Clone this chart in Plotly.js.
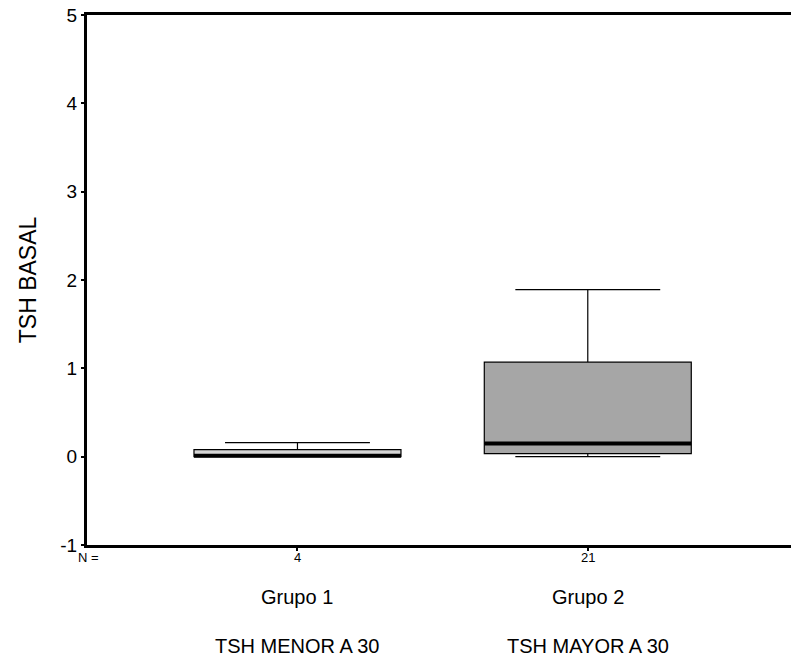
<!DOCTYPE html>
<html>
<head>
<meta charset="utf-8">
<script src="https://cdn.plot.ly/plotly-3.0.1.min.js"></script>
<style>html,body{margin:0;padding:0;background:#fff;overflow:hidden}</style>
</head>
<body>
<div id="chart" style="width:791px;height:669px"></div>
<script>
const categories = ['Grupo 1', 'Grupo 2'];
const descriptions = ['TSH MENOR A 30', 'TSH MAYOR A 30'];
const counts = [4, 21];
const q1 = [0.0, 0.035];
const median = [0.01, 0.15];
const q3 = [0.08, 1.07];
const lowerFence = [0.0, 0.0];
const upperFence = [0.16, 1.89];
const fills = ['#d6d6d6', '#a6a6a6'];
const yTicks = [-1, 0, 1, 2, 3, 4, 5];
const yTickText = ['-1', '0', '1', '2', '3', '4', '5'];

const boxWidth = 0.713;
const font = 'Liberation Sans, Arial, sans-serif';

const traces = categories.map((c, i) => ({
  type: 'box',
  x: [c],
  q1: [q1[i]],
  median: [median[i]],
  q3: [q3[i]],
  lowerfence: [lowerFence[i]],
  upperfence: [upperFence[i]],
  width: boxWidth,
  whiskerwidth: 0.7,
  fillcolor: fills[i],
  line: {color: '#000', width: 1.2},
  boxpoints: false,
  hoverinfo: 'skip',
  showlegend: false
}));

const shapes = categories.map((c, i) => ({
  type: 'line', xref: 'x', yref: 'y',
  x0: i - boxWidth / 2, x1: i + boxWidth / 2,
  y0: median[i], y1: median[i],
  line: {color: '#000', width: 4}
}));

const annotations = [];
annotations.push({xref: 'paper', yref: 'paper', x: -0.016, y: 0, yshift: -12,
  text: 'N =', showarrow: false, xanchor: 'left', yanchor: 'middle',
  font: {family: font, size: 13, color: '#000'}});
categories.forEach((c, i) => {
  annotations.push({xref: 'x', yref: 'paper', x: c, y: 0, yshift: -12, text: String(counts[i]),
    showarrow: false, yanchor: 'middle', font: {family: font, size: 13, color: '#000'}});
  annotations.push({xref: 'x', yref: 'paper', x: c, y: 0, yshift: -52, text: c,
    showarrow: false, yanchor: 'middle', font: {family: font, size: 20, color: '#000'}});
  annotations.push({xref: 'x', yref: 'paper', x: c, y: 0, yshift: -101, text: descriptions[i],
    showarrow: false, yanchor: 'middle', font: {family: font, size: 20, color: '#000'}});
});

const layout = {
  width: 791, height: 669,
  margin: {l: 87, r: 0, t: 15, b: 124},
  paper_bgcolor: '#fff', plot_bgcolor: '#fff',
  font: {family: font, color: '#000'},
  showlegend: false,
  xaxis: {
    type: 'category', range: [-0.725, 1.7],
    showgrid: false, zeroline: false,
    showline: true, linecolor: '#000', linewidth: 3, mirror: true,
    ticks: 'outside', ticklen: 3, tickwidth: 2, tickcolor: '#000',
    showticklabels: false, fixedrange: true
  },
  yaxis: {
    range: [-1, 5], tickvals: yTicks, ticktext: yTickText,
    showgrid: false, zeroline: false,
    showline: true, linecolor: '#000', linewidth: 3, mirror: false,
    ticks: 'outside', ticklen: 3, tickwidth: 2, tickcolor: '#000',
    tickfont: {family: font, size: 19, color: '#000'},
    title: {text: 'TSH BASAL', font: {family: font, size: 23, color: '#000'}, standoff: 18},
    fixedrange: true
  },
  shapes: shapes,
  annotations: annotations
};

Plotly.newPlot('chart', traces, layout, {displayModeBar: false, staticPlot: true});
</script>
</body>
</html>
